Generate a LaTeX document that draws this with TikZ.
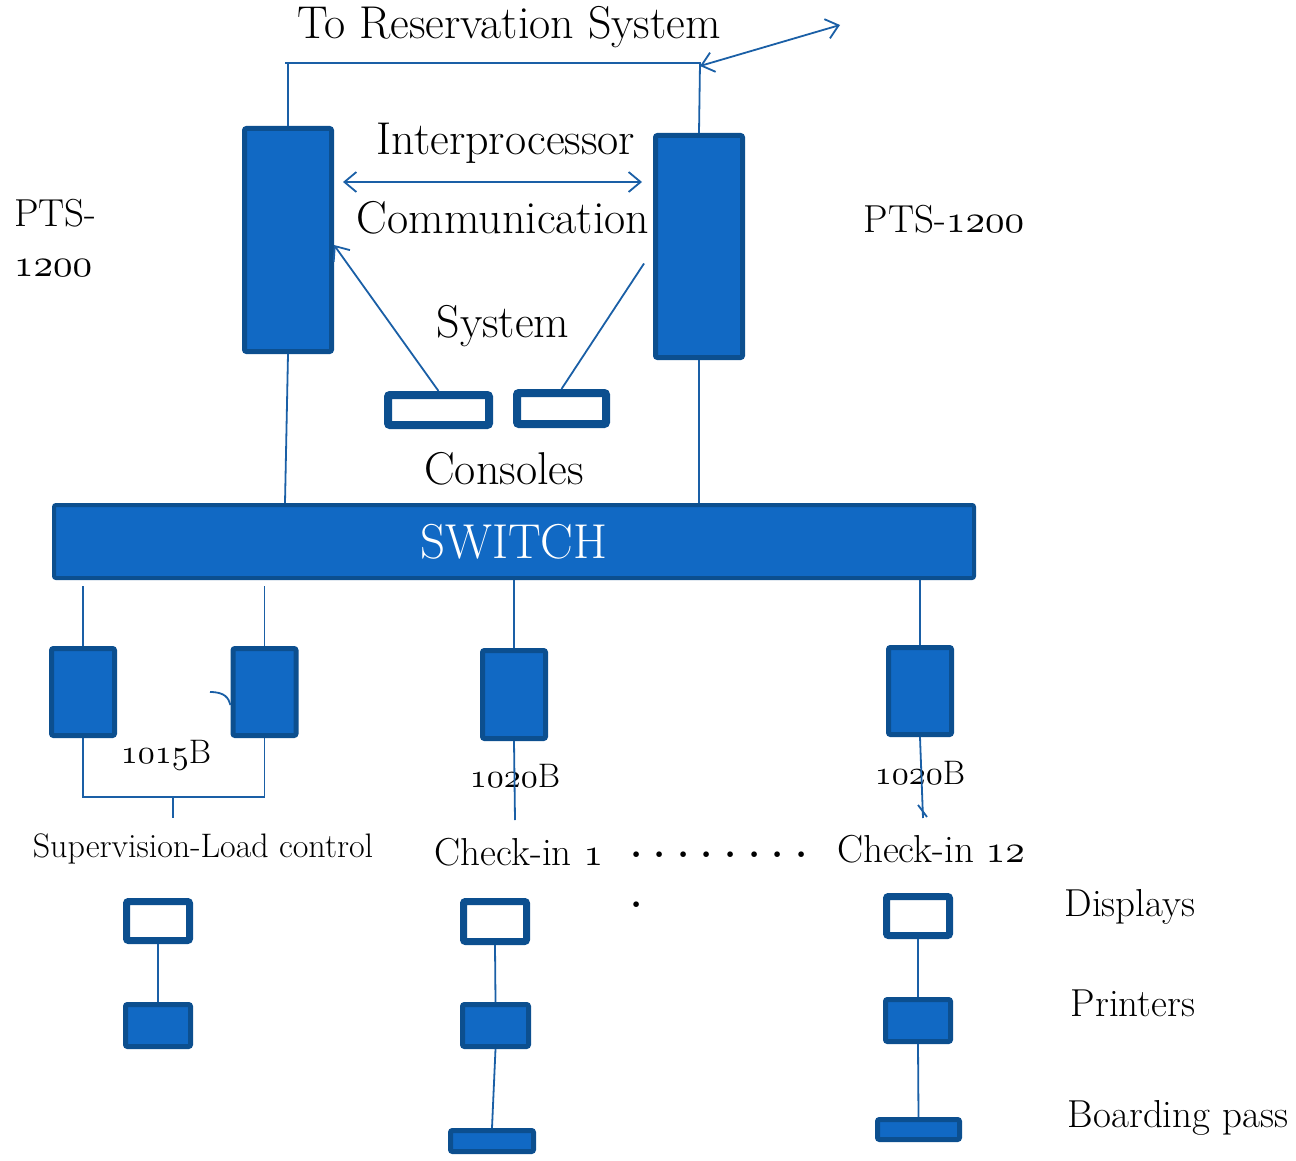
\documentclass[tikz,border=0pt]{standalone}
\usetikzlibrary{arrows.meta}
\definecolor{boxblue}{HTML}{1169C4}
\definecolor{edgeblue}{HTML}{0C4F8F}
\definecolor{lineblue}{HTML}{1A5FA6}
\DeclareFontFamily{OML}{osnum}{\skewchar\font127 }
\DeclareFontShape{OML}{osnum}{m}{it}{<-> cmmi10}{}
\newcommand{\osn}[1]{{\usefont{OML}{osnum}{m}{it}#1}}
\newcommand{\bigfont}{\fontsize{46}{54}\selectfont}
\newcommand{\midfont}{\fontsize{39}{50}\selectfont}
\newcommand{\smallfont}{\fontsize{34}{40}\selectfont}
\newcommand{\switchfont}{\fontsize{49}{58}\selectfont}
\begin{document}
\begin{tikzpicture}[x=1pt, y=-1pt, >={Straight Barb[length=12pt,width=20pt]}]
  \tikzset{
    unit/.style={rectangle, rounded corners=2pt, draw=edgeblue, fill=boxblue, line width=5pt, inner sep=0pt},
    console/.style={rectangle, rounded corners=2pt, draw=edgeblue, fill=white, line width=8pt, inner sep=0pt},
    link/.style={draw=lineblue, line width=1.8pt},
    biglabel/.style={inner sep=0pt, font=\bigfont},
    midlabel/.style={inner sep=0pt, font=\midfont},
    smalllabel/.style={inner sep=0pt, font=\smallfont}
  }
  \useasboundingbox (0,0) rectangle (1296,1161);

  \node[unit, minimum width=87pt, minimum height=223pt] (ptsL) at (288,240) {};
  \node[unit, minimum width=87pt, minimum height=222pt] (ptsR) at (699,246.5) {};
  \node[console, minimum width=101pt, minimum height=30pt] (conL) at (438.5,410) {};
  \node[console, minimum width=89pt, minimum height=31pt] (conR) at (561.5,408.5) {};
  \node[unit, line width=4pt, minimum width=920pt, minimum height=73pt, text=white, font=\switchfont] (switch) at (514,541.5) {SWITCH};

  \node[unit, minimum width=63pt, minimum height=87pt] (sup1) at (83,692) {};
  \node[unit, minimum width=63pt, minimum height=87pt] (sup2) at (264.5,692) {};
  \node[unit, minimum width=63pt, minimum height=88pt] (chk1) at (514,694.5) {};
  \node[unit, minimum width=63pt, minimum height=87pt] (chk12) at (920,691) {};

  \node[console, line width=7pt, minimum width=63pt, minimum height=39pt] (disp1) at (158,921) {};
  \node[console, line width=7pt, minimum width=63pt, minimum height=40pt] (disp2) at (495,921.5) {};
  \node[console, line width=7pt, minimum width=63pt, minimum height=39pt] (disp3) at (918,916) {};
  \node[unit, minimum width=65pt, minimum height=42pt] (prn1) at (158,1025.5) {};
  \node[unit, minimum width=66pt, minimum height=42pt] (prn2) at (495.5,1025.5) {};
  \node[unit, minimum width=65pt, minimum height=42pt] (prn3) at (918,1020.5) {};
  \node[unit, minimum width=83pt, minimum height=21pt] (bp2) at (492,1141) {};
  \node[unit, minimum width=82pt, minimum height=20pt] (bp3) at (918.5,1129.5) {};

  \node[biglabel] (resv) at (509,27) {To Reservation System};
  \node[biglabel] (ipc1) at (506,143) {Interprocessor};
  \node[biglabel] (ipc2) at (503,218) {Communication};
  \node[biglabel] (ipc3) at (503,326) {System};
  \node[biglabel] (cons) at (504,469) {Consoles};
  \node[midlabel, anchor=west, align=left] (ptsLlab) at (14,238) {PTS-\\\osn{1200}};
  \node[midlabel] (ptsRlab) at (944,219) {PTS-\osn{1200}};
  \node[smalllabel] (lab1015) at (166,755) {\osn{1015}B};
  \node[smalllabel] (lab1020a) at (515,776) {\osn{1020}B};
  \node[smalllabel] (lab1020b) at (920,773) {\osn{1020}B};
  \node[smalllabel] (suplab) at (203,849) {Supervision-Load control};
  \node[midlabel] (chk1lab) at (519,852) {Check-in \osn{1}};
  \node[midlabel] (chk12lab) at (931,849) {Check-in \osn{12}};
  \node[midlabel, anchor=west, align=left] (more) at (630,880) {{\bfseries\spaceskip=6.5pt . . . . . . . .}\\\bfseries .};
  \node[midlabel] (displab) at (1130,907) {Displays};
  \node[midlabel] (prnlab) at (1133,1003) {Printers};
  \node[midlabel] (bplab) at (1178,1118) {Boarding pass};

  \coordinate (topL) at (285,63);
  \coordinate (topR) at (700,63);
  \coordinate (ext) at (840,25);
  \coordinate (ipc) at (0,182);
  \coordinate (br) at (173,797);
  \coordinate (stub) at (210,692);
  \coordinate (end1) at (515,820);
  \coordinate (end12) at (923,818);

  \draw[link] (topL) -- (topR) -- (ptsR.north);
  \draw[link] (ptsL.north) -- (ptsL.north |- topL);
  \draw[link, <->] ([yshift=-3pt]topR) -- (ext);
  \draw[link, <->, shorten <=9pt, shorten >=11pt] (ptsL.east |- ipc) -- (ptsR.west |- ipc);
  \draw[link, ->] (conL.north) -- ([yshift=-5pt]ptsL.east);
  \draw[link] (conR.north) -- ([xshift=-9pt, yshift=-17pt]ptsR.west);
  \draw[link] (ptsL.south) -- ([xshift=-3pt]ptsL.south |- switch.north);
  \draw[link] (ptsR.south) -- (ptsR.south |- switch.north);

  \draw[link] ([yshift=-6pt]sup1.north |- switch.south) -- (sup1.north);
  \draw[link] ([yshift=-6pt]sup2.north |- switch.south) -- (sup2.north);
  \draw[link] (chk1.north |- switch.south) -- (chk1.north);
  \draw[link] (chk12.north |- switch.south) -- (chk12.north);
  \draw[link] (sup1.south) |- (br) -| (sup2.south);
  \draw[link] (br) -- ++(0,21);
  \draw[link] (stub) .. controls +(15,0) and +(-2,-7) .. ([yshift=-13pt]sup2.west);
  \draw[link] (chk1.south) -- (end1);
  \draw[link] (chk12.south) -- (end12);
  \draw[link] ([shift={(-5,-13)}]end12) -- ([shift={(4,-1)}]end12);

  \draw[link] (disp1.south) -- (prn1.north);
  \draw[link] (disp2.south) -- (prn2.north);
  \draw[link] (prn2.south) -- (bp2.north);
  \draw[link] (disp3.south) -- (prn3.north);
  \draw[link] (prn3.south) -- (bp3.north);
\end{tikzpicture}
\end{document}
